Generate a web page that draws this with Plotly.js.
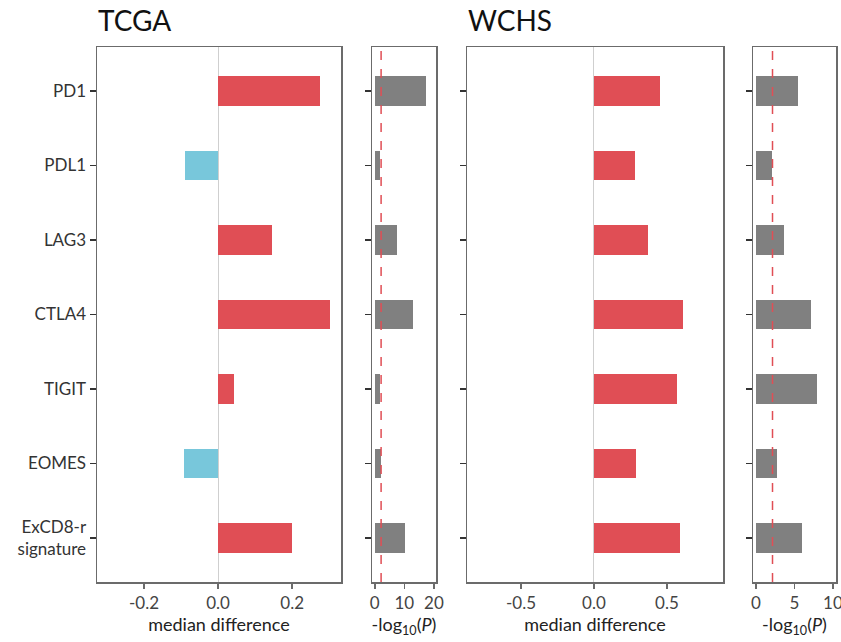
<!DOCTYPE html>
<html>
<head>
<meta charset="utf-8">
<script src="https://cdn.plot.ly/plotly-3.0.1.min.js"></script>
<style>html,body{margin:0;padding:0;background:#fff;}#chart{width:841px;height:642px;}</style>
</head>
<body>
<div id="chart"></div>
<script>
// ---- data ----
const categories = ["PD1", "PDL1", "LAG3", "CTLA4", "TIGIT", "EOMES", "ExCD8-r<br>signature"];
const tcgaMedianDiff = [0.276, -0.088, 0.146, 0.303, 0.043, -0.092, 0.200];
const tcgaNegLogP = [17.4, 1.7, 7.6, 12.8, 1.7, 2.1, 10.1];
const wchsMedianDiff = [0.454, 0.283, 0.372, 0.612, 0.571, 0.290, 0.589];
const wchsNegLogP = [5.5, 2.1, 3.7, 7.1, 7.9, 2.7, 6.0];
const pThreshold = 2.146; // -log10(0.05/7)
const panelTitles = ["TCGA", "WCHS"];
const diffTicksTCGA = [-0.2, 0.0, 0.2];
const diffTicksWCHS = [-0.5, 0.0, 0.5];
const pTicksTCGA = [0, 10, 20];
const pTicksWCHS = [0, 5, 10];

// ---- styles ----
const RED = "#E04E55", BLUE = "#78C7DB", GRAY = "#808080";
const FRAME = "#6b6b6b";
const FONT = "Lato, 'Open Sans', sans-serif";
const W = 841, H = 642;
const px = v => v / W;
const yTop = 1 - 47 / H, yBot = 1 - 582 / H;
const catRange = [categories.length - 1 + 0.59, -0.59];

const signColors = arr => arr.map(v => v < 0 ? BLUE : RED);

const barCommon = {type: "bar", orientation: "h", width: 0.4, hoverinfo: "x+y", showlegend: false};

const traces = [
  Object.assign({}, barCommon, {x: tcgaMedianDiff, y: categories, xaxis: "x", yaxis: "y", marker: {color: signColors(tcgaMedianDiff)}}),
  Object.assign({}, barCommon, {x: tcgaNegLogP, y: categories, xaxis: "x2", yaxis: "y2", marker: {color: GRAY}}),
  Object.assign({}, barCommon, {x: wchsMedianDiff, y: categories, xaxis: "x3", yaxis: "y3", marker: {color: signColors(wchsMedianDiff)}}),
  Object.assign({}, barCommon, {x: wchsNegLogP, y: categories, xaxis: "x4", yaxis: "y4", marker: {color: GRAY}})
];

function xax(dom, range, ticks, fmt, title, zero) {
  return {
    domain: dom, range: range, tickmode: "array", tickvals: ticks,
    ticktext: ticks.map(fmt),
    showgrid: false, zeroline: !!zero, zerolinecolor: "#cfcfcf", zerolinewidth: 1,
    showline: true, linecolor: FRAME, linewidth: 1.5, mirror: true,
    ticks: "outside", ticklen: 5, tickcolor: FRAME, tickwidth: 1.5,
    ticklabeloverflow: "allow",
    tickfont: {family: FONT, size: 17, color: "#444"},
    title: {text: title, font: {family: FONT, size: 18, color: "#222"}, standoff: 6},
    fixedrange: true
  };
}
function yax(anchor, showLabels) {
  return {
    domain: [yBot, yTop], anchor: anchor, type: "category",
    categoryorder: "array", categoryarray: categories,
    range: catRange, showgrid: false, zeroline: false,
    showline: true, linecolor: FRAME, linewidth: 1.5, mirror: true,
    ticks: "outside", ticklen: 6, tickcolor: "#333", tickwidth: 1.5,
    showticklabels: showLabels,
    tickfont: {family: FONT, size: 17, color: "#333"},
    fixedrange: true
  };
}

const f1 = v => v.toFixed(1);
const f0 = v => String(v);

const layout = {
  width: W, height: H,
  margin: {l: 0, r: 0, t: 0, b: 0},
  paper_bgcolor: "#fff", plot_bgcolor: "#fff",
  bargap: 0,
  xaxis: xax([px(97), px(341)], [-0.327, 0.332], diffTicksTCGA, f1, "median difference", true),
  xaxis2: Object.assign(xax([px(372), px(436)], [-0.93, 20.7], pTicksTCGA, f0, "-log<sub>10</sub>(<i>P</i>)"), {anchor: "y2"}),
  xaxis3: Object.assign(xax([px(467), px(723)], [-0.87, 0.884], diffTicksWCHS, f1, "median difference", true), {anchor: "y3"}),
  xaxis4: Object.assign(xax([px(753), px(836)], [-0.39, 10.4], pTicksWCHS, f0, "-log<sub>10</sub>(<i>P</i>)"), {anchor: "y4"}),
  yaxis: yax("x", true),
  yaxis2: yax("x2", false),
  yaxis3: yax("x3", false),
  yaxis4: yax("x4", false),
  shapes: [
    {type: "line", xref: "x2", yref: "y2 domain", x0: pThreshold, x1: pThreshold, y0: 0, y1: 1,
     line: {color: RED, width: 1.5, dash: "dash"}, layer: "above"},
    {type: "line", xref: "x4", yref: "y4 domain", x0: pThreshold, x1: pThreshold, y0: 0, y1: 1,
     line: {color: RED, width: 1.5, dash: "dash"}, layer: "above"}
  ],
  annotations: [
    {text: panelTitles[0], xref: "paper", yref: "paper", x: px(96), y: 1 - 20 / H, xanchor: "left", yanchor: "middle",
     showarrow: false, font: {family: FONT, size: 28, color: "#111"}},
    {text: panelTitles[1], xref: "paper", yref: "paper", x: px(466), y: 1 - 20 / H, xanchor: "left", yanchor: "middle",
     showarrow: false, font: {family: FONT, size: 28, color: "#111"}}
  ]
};

Plotly.newPlot("chart", traces, layout, {displayModeBar: false, staticPlot: true});
</script>
</body>
</html>
